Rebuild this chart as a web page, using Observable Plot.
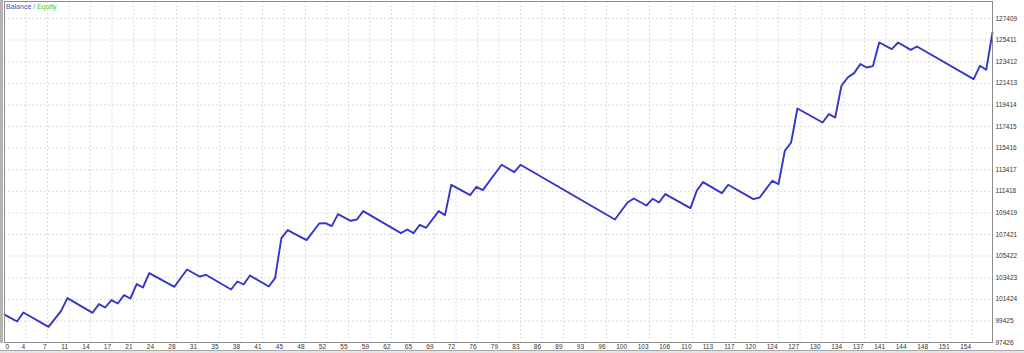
<!DOCTYPE html>
<html>
<head>
<meta charset="utf-8">
<script src="https://cdn.jsdelivr.net/npm/d3@7"></script>
<script src="https://cdn.jsdelivr.net/npm/@observablehq/plot@0.6"></script>
<style>
  html, body { margin: 0; padding: 0; background: #fff; }
  #wrap { position: relative; width: 1024px; height: 353px; overflow: hidden; }
  #legend { position: absolute; left: 6px; top: 3px; font: 7px "Liberation Sans", Arial, sans-serif; color: #777; }
  #legend .bal { color: #4a4ac8; }
  #legend .eq { color: #3cc43c; }
  #leftedge { position: absolute; left: 0; top: 0; width: 3px; height: 343px; background: #b4b4b4; }
  #bottombar { position: absolute; left: 0; top: 350px; width: 1024px; height: 3px; background: #e4e4e4; border-top: 1px solid #a8a8a8; }
</style>
</head>
<body>
<div id="wrap"></div>
<script>
// Trade number (x) and account balance (y) at each vertex of the balance line
const trade = [0,2,3,7,9,10,14,15,16,17,18,19,20,21,22,23,27,29,31,32,36,37,38,39,42,43,44,45,48,50,51,52,53,55,56,57,63,64,65,66,67,69,70,71,74,75,76,79,81,82,97,99,100,102,103,104,105,109,110,111,114,115,119,120,122,123,124,125,126,130,131,132,133,134,135,136,137,138,139,141,142,144,145,154,155,156,157];
const balance = [100000,99369,100202,98879,100359,101535,100174,100980,100665,101350,101035,101812,101498,102830,102516,103848,102580,104181,103534,103691,102331,103071,102793,103626,102608,103386,107087,107827,106902,108438,108475,108198,109308,108688,108808,109586,107550,107883,107550,108318,108040,109586,109216,112020,111066,111835,111529,113870,113195,113870,108808,110382,110752,110104,110724,110382,111159,109863,111464,112269,111251,112020,110696,110844,112390,112084,115166,115934,119080,117785,118562,118248,121181,121949,122356,123189,122875,123004,125188,124577,125188,124512,124818,121801,123032,122662,126113];

// Axis tick labels
const xTickLabels = [0,4,7,11,14,17,21,24,28,31,35,38,41,45,48,52,55,59,62,65,69,72,76,79,83,86,89,93,96,100,103,106,110,113,117,120,124,127,130,134,137,141,144,148,151,154];
const yTickLabels = [97426,99425,101424,103423,105422,107421,109419,111418,113417,115416,117415,119414,121413,123412,125411,127409];

const rows = trade.map((t, i) => ({trade: t, balance: balance[i]}));

const lastTrade = trade[trade.length - 1];
const gridDivisions = 45.95;                 // evenly spaced grid columns across the chart
const gridStep = lastTrade / gridDivisions;
const xTickPos = xTickLabels.map((_, k) => k * gridStep);
const labelAt = new Map(xTickPos.map((p, k) => [p, String(xTickLabels[k])]));

const gridStyle = {stroke: "#dcdcdc", strokeOpacity: 1, strokeDasharray: "2,2", strokeWidth: 1};

const chart = Plot.plot({
  width: 1024,
  height: 353,
  marginLeft: 4,
  marginRight: 32,
  marginTop: 1,
  marginBottom: 11,
  style: {fontFamily: "'Liberation Sans', Arial, sans-serif", fontSize: "6.5px", color: "#333", background: "#fff"},
  x: {domain: [0, lastTrade], axis: null},
  y: {domain: [97426, 128982], axis: null},
  marks: [
    Plot.gridX(xTickPos.slice(1), gridStyle),
    Plot.gridY(yTickLabels.slice(1), gridStyle),
    Plot.line(rows, {x: "trade", y: "balance", stroke: "#3535c6", strokeWidth: 1.9, strokeLinejoin: "round"}),
    Plot.frame({stroke: "#8c8c8c", strokeWidth: 1}),
    Plot.axisX(xTickPos.slice(1), {anchor: "bottom", label: null, tickSize: 0, tickPadding: 2, textAnchor: "end", dx: -1, tickFormat: d => labelAt.get(d), fill: "#333"}),
    Plot.axisX([xTickPos[0]], {anchor: "bottom", label: null, tickSize: 0, tickPadding: 2, textAnchor: "start", dx: 1, tickFormat: d => labelAt.get(d), fill: "#333"}),
    Plot.axisY(yTickLabels, {anchor: "right", label: null, tickSize: 0, tickPadding: 3, textAnchor: "start", tickFormat: d => String(d), fill: "#333"})
  ]
});

const wrap = document.getElementById("wrap");
wrap.appendChild(chart);
const edge = document.createElement("div"); edge.id = "leftedge"; wrap.appendChild(edge);
const bar = document.createElement("div"); bar.id = "bottombar"; wrap.appendChild(bar);
const legend = document.createElement("div");
legend.id = "legend";
legend.innerHTML = '<span class="bal">Balance</span> / <span class="eq">Equity</span>';
wrap.appendChild(legend);
</script>
</body>
</html>
